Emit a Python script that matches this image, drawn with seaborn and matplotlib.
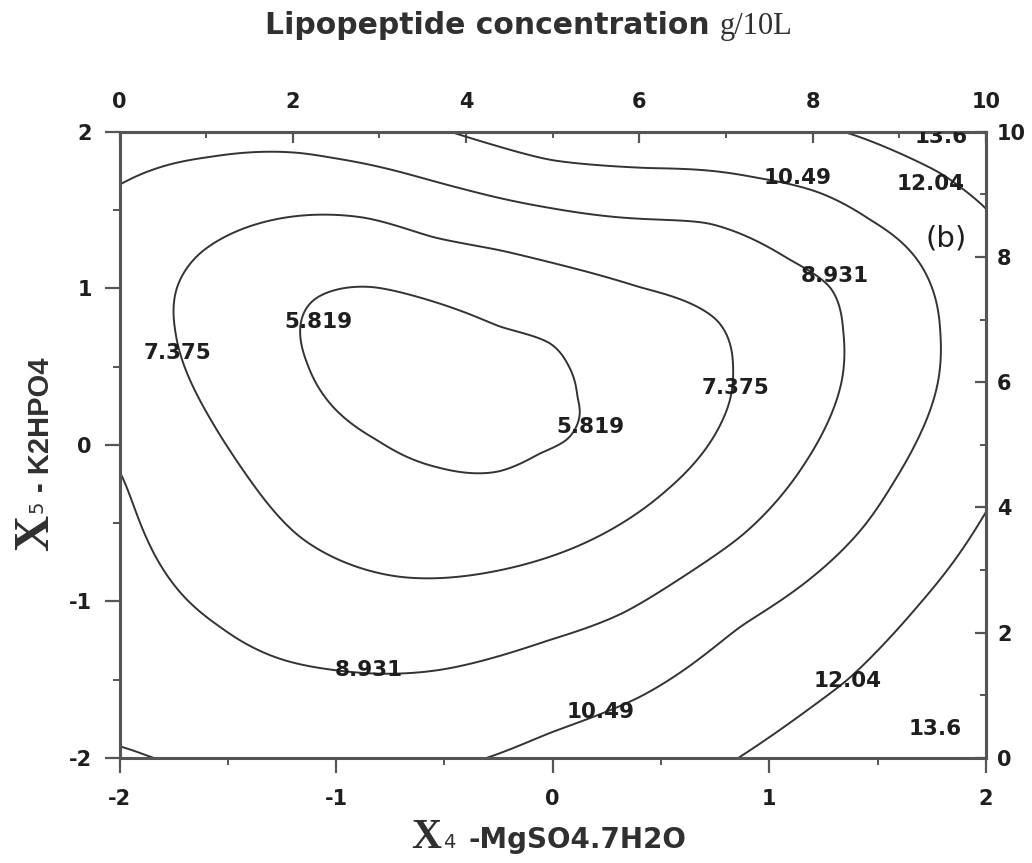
import numpy as np
import matplotlib
matplotlib.use("Agg")
import matplotlib.pyplot as plt
from matplotlib.ticker import MultipleLocator, FixedLocator
import seaborn as sns

# ---------------- data ----------------
levels = [5.819, 7.375, 8.931, 10.49, 12.04, 13.6]
level_labels = ["5.819", "7.375", "8.931", "10.49", "12.04", "13.6"]

# points on each contour line (X4, X5)
l1_x = [-1.105, -0.828, -0.474, -0.243, -0.012, 0.066, 0.112, 0.126, 0.066, -0.059, -0.257, -0.52, -0.811, -1.014, -1.134, -1.166]
l1_y = [0.925, 1.008, 0.88, 0.753, 0.651, 0.52, 0.306, 0.204, 0.031, -0.052, -0.173, -0.147, 0.031, 0.242, 0.523, 0.734]
l2_x = [-1.734, -1.628, -1.411, -1.134, -0.857, -0.552, -0.243, -0.012, 0.403, 0.759, 0.832, 0.818, 0.712, 0.527, -0.059, -0.507, -0.705, -1.167, -1.522, -1.706, -1.743]
l2_y = [1.007, 1.224, 1.39, 1.467, 1.448, 1.326, 1.243, 1.166, 1.006, 0.795, 0.495, 0.286, -0.014, -0.288, -0.735, -0.85, -0.843, -0.588, 0.031, 0.523, 0.734]
l3_x = [-2.0, -1.848, -1.58, -1.166, -1.014, -0.705, -0.396, -0.012, 0.324, 0.712, 1.095, 1.28, 1.34, 1.335, 1.174, 1.05, 0.865, 0.325, -0.012, -0.52, -1.014, -1.245, -1.536, -1.688, -1.905, -1.998]
l3_y = [1.66, 1.756, 1.839, 1.864, 1.832, 1.743, 1.628, 1.513, 1.451, 1.417, 1.181, 1.009, 0.734, 0.415, -0.096, -0.332, -0.588, -1.073, -1.245, -1.437, -1.437, -1.373, -1.162, -0.99, -0.498, -0.173]
l4_x = [-0.474, -0.012, 0.436, 0.944, 1.22, 1.465, 1.742, 1.789, 1.78, 1.683, 1.572, 1.434, 1.221, 0.865, 0.403, -0.012, -0.289, -1.998, -1.86]
l4_y = [2.0, 1.82, 1.768, 1.705, 1.616, 1.437, 1.034, 0.715, 0.415, 0.031, -0.243, -0.524, -0.818, -1.162, -1.609, -1.839, -1.992, -1.93, -1.992]
l5_x = [1.342, 1.789, 1.997, 1.997, 1.697, 1.36, 1.221, 0.865]
l5_y = [2.0, 1.736, 1.513, -0.435, -1.01, -1.501, -1.648, -1.992]
# estimated values at the centre of the innermost loop and at the corners
extra_x = [-0.5, -2.0, 2.0, -2.0, 2.0]
extra_y = [0.42, 2.0, 2.0, -2.0, -2.0]
extra_z = [4.9, 9.4, 13.75, 10.7, 13.9]

# contour label positions (X4, X5) and level index
lab_x = [-1.081, 0.175, -1.732, 0.842, 1.303, -0.85, 1.13, 0.221, 1.742, 1.361, 1.795, 1.765]
lab_y = [0.782, 0.114, 0.587, 0.363, 1.079, -1.437, 1.704, -1.706, 1.666, -1.508, 1.966, -1.814]
lab_i = [0, 0, 1, 1, 2, 2, 3, 3, 4, 4, 5, 5]

x_ticks = [-2, -1, 0, 1, 2]
y_ticks = [-2, -1, 0, 1, 2]
conc_ticks = [0, 2, 4, 6, 8, 10]

# ---------------- smooth surface through the readings (thin-plate spline) ----------------
pts_x = [l1_x, l2_x, l3_x, l4_x, l5_x]
pts_y = [l1_y, l2_y, l3_y, l4_y, l5_y]
px = np.concatenate(pts_x + [extra_x])
py = np.concatenate(pts_y + [extra_y])
pz = np.concatenate([np.full(len(a), v) for a, v in zip(pts_x, levels[:5])] + [extra_z])


def kern(r):
    with np.errstate(divide="ignore", invalid="ignore"):
        k = r * r * np.log(r)
    return np.nan_to_num(k)


n = len(px)
K = kern(np.hypot(px[:, None] - px[None, :], py[:, None] - py[None, :])) + 4e-3 * np.eye(n)
Q = np.column_stack([np.ones(n), px, py])
M = np.block([[K, Q], [Q.T, np.zeros((3, 3))]])
sol = np.linalg.solve(M, np.concatenate([pz, np.zeros(3)]))
wts, aff = sol[:n], sol[n:]

gx = np.linspace(-2, 2, 241)
GX, GY = np.meshgrid(gx, gx)
G = np.column_stack([GX.ravel(), GY.ravel()])
Kg = kern(np.hypot(G[:, :1] - px[None, :], G[:, 1:] - py[None, :]))
Z = (Kg @ wts + aff[0] + aff[1] * G[:, 0] + aff[2] * G[:, 1]).reshape(GX.shape)

# ---------------- figure ----------------
sns.set_theme(style="ticks")
plt.rcParams["font.family"] = ["DejaVu Sans"]

ink = "#333333"
txt = "#1e1e1e"
spine_c = "#555555"
lab_c = "#303030"

fig = plt.figure(figsize=(10.32, 8.63), dpi=100)
ax = fig.add_axes([119.5 / 1032, 1 - 758 / 863, (986 - 119.5) / 1032, (758 - 131.7) / 863])

ax.contour(GX, GY, Z, levels=levels[:5], colors=ink, linewidths=1.4)

for xv, yv, i in zip(lab_x, lab_y, lab_i):
    ax.text(xv, yv, level_labels[i], ha="center", va="center", fontsize=15.5,
            fontweight="bold", color=txt, clip_on=True)
ax.text(1.816, 1.321, "(b)", ha="center", va="center", fontsize=21, color=txt)

ax.set_xlim(-2, 2)
ax.set_ylim(-2, 2)
ax.set_xticks(x_ticks)
ax.set_yticks(y_ticks)
ax.set_xticklabels([str(t) for t in x_ticks])
ax.set_yticklabels([str(t) for t in y_ticks])
ax.xaxis.set_minor_locator(MultipleLocator(0.5))
ax.yaxis.set_minor_locator(MultipleLocator(0.5))
ax.tick_params(which="major", direction="out", length=11, width=1.6, color=spine_c,
               labelsize=15, top=False, right=False)
ax.tick_params(axis="x", which="major", pad=11)
ax.tick_params(axis="y", which="major", pad=9)
ax.tick_params(which="minor", direction="out", length=5, width=1.4, color=spine_c,
               top=False, right=False)
for lbl in ax.get_xticklabels() + ax.get_yticklabels():
    lbl.set_fontweight("bold")
    lbl.set_color(txt)
for s in ax.spines.values():
    s.set_visible(True)
    s.set_color(spine_c)
    s.set_linewidth(2.2)
ax.grid(False)

fwd = lambda v: (v + 2) * 2.5
inv = lambda v: v / 2.5 - 2
top = ax.secondary_xaxis("top", functions=(fwd, inv))
right = ax.secondary_yaxis("right", functions=(fwd, inv))
for sec, axis in ((top, top.xaxis), (right, right.yaxis)):
    axis.set_major_locator(FixedLocator(conc_ticks))
    axis.set_minor_locator(MultipleLocator(1))
    sec.tick_params(which="major", direction="in", length=8, width=1.6, color=spine_c,
                    labelsize=15, pad=14 if sec is top else 8)
    sec.tick_params(which="minor", direction="in", length=4, width=1.4, color=spine_c)
    for s in sec.spines.values():
        s.set_color(spine_c)
        s.set_linewidth(2.2)
top.set_xticklabels([str(t) for t in conc_ticks], fontweight="bold", color=txt)
right.set_yticklabels([str(t) for t in conc_ticks], fontweight="bold", color=txt)

# ---------------- titles ----------------
renderer = fig.canvas.get_renderer()
W, H = 1032, 863

base_top = 1 - 34 / H
t1 = fig.text(265 / W, base_top, "Lipopeptide concentration", ha="left", va="baseline",
              family="DejaVu Sans", fontweight="bold", fontsize=20, color=lab_c)
w0 = t1.get_window_extent(renderer).width
t1.set_fontsize(20 * 446 / w0)
bb = t1.get_window_extent(renderer)
fig.text((bb.x1 + 10) / W, base_top, "g/10L", ha="left", va="baseline",
         family="Liberation Serif", fontsize=22, color=lab_c)

base_bot = 1 - 848 / H
tx = fig.text(411 / W, base_bot, "X", ha="left", va="baseline", family="Liberation Serif",
              fontweight="bold", fontsize=30, color=lab_c)
xb = tx.get_window_extent(renderer)
fig.text((xb.x1 + 2) / W, base_bot, "4", ha="left", va="baseline", family="DejaVu Sans",
         fontsize=14, color=lab_c)
fig.text(468 / W, base_bot, "-MgSO4.7H2O", ha="left", va="baseline",
         family="DejaVu Sans", fontweight="bold", fontsize=20, color=lab_c)

fig.text(13 / W, 1 - 551 / H, "X", ha="left", va="bottom", rotation=90,
         family="Liberation Serif", fontweight="bold", fontsize=36, color=lab_c)
fig.text(27 / W, 1 - 513 / H, "5", ha="left", va="bottom", rotation=90,
         family="DejaVu Sans", fontsize=14, color=lab_c)
fig.text(27 / W, 1 - 492 / H, "- K2HPO4", ha="left", va="bottom", rotation=90,
         family="Liberation Sans", fontweight="bold", fontsize=21, color=lab_c)

fig.savefig("out.png", dpi=100)
